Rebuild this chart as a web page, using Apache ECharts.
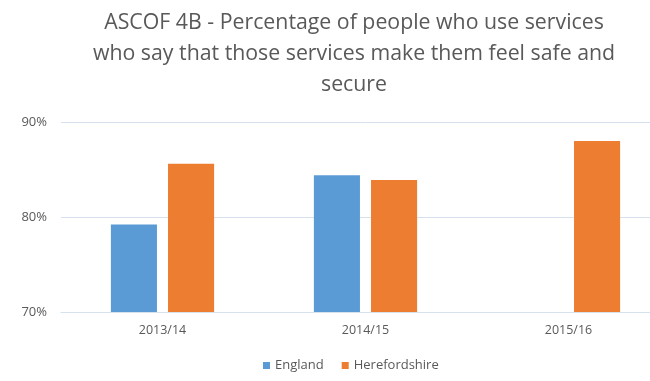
<!DOCTYPE html>
<html>
<head>
<meta charset="utf-8">
<script src="https://cdn.jsdelivr.net/npm/echarts@6/dist/echarts.min.js"></script>
<style>
  html, body { margin: 0; padding: 0; background: #fff; overflow: hidden; }
  /* the plot runs past the right edge of the picture, as in the reference */
  #main { width: 672px; height: 381px; }
</style>
</head>
<body>
<div id="main"></div>
<script>
// data
var years = ['2013/14', '2014/15', '2015/16'];
var england = [79.2, 84.4, null];
var herefordshire = [85.6, 83.9, 88.0];
var yTicks = [70, 80, 90];

var myChart = echarts.init(document.getElementById('main'));

var option = {
    backgroundColor: '#fff',
    textStyle: { fontFamily: 'Open Sans' },
    title: {
        text: 'ASCOF 4B - Percentage of people who use services\nwho say that those services make them feel safe and\nsecure',
        left: 349,
        top: 2,
        textAlign: 'center',
        textStyle: {
            fontFamily: 'Open Sans',
            fontWeight: 'normal',
            fontSize: 21.3,
            lineHeight: 31,
            color: '#595959'
        }
    },
    legend: {
        data: ['England', 'Herefordshire'],
        left: 258,
        bottom: 4,
        icon: 'rect',
        itemWidth: 7,
        itemHeight: 7,
        itemGap: 18,
        textStyle: { color: '#595959', fontSize: 13 }
    },
    grid: {
        left: 61,
        right: 2,
        top: 122,
        bottom: 69
    },
    xAxis: {
        type: 'category',
        data: years,
        axisTick: { show: false },
        axisLine: { lineStyle: { color: '#d5e2ee' } },
        axisLabel: { color: '#595959', fontSize: 12.5, margin: 12 }
    },
    yAxis: {
        type: 'value',
        min: yTicks[0],
        max: yTicks[yTicks.length - 1],
        interval: 10,
        axisLine: { show: false },
        axisTick: { show: false },
        splitLine: { lineStyle: { color: '#d5e2ee' } },
        axisLabel: { color: '#595959', fontSize: 13, margin: 14, formatter: '{value}%' }
    },
    series: [
        {
            name: 'England',
            type: 'bar',
            data: england,
            barWidth: '22.7%',
            barGap: '24%',
            itemStyle: { color: '#5b9bd5' }
        },
        {
            name: 'Herefordshire',
            type: 'bar',
            data: herefordshire,
            barWidth: '22.7%',
            barGap: '24%',
            itemStyle: { color: '#ed7d31' }
        }
    ]
};

myChart.setOption(option);
</script>
</body>
</html>
